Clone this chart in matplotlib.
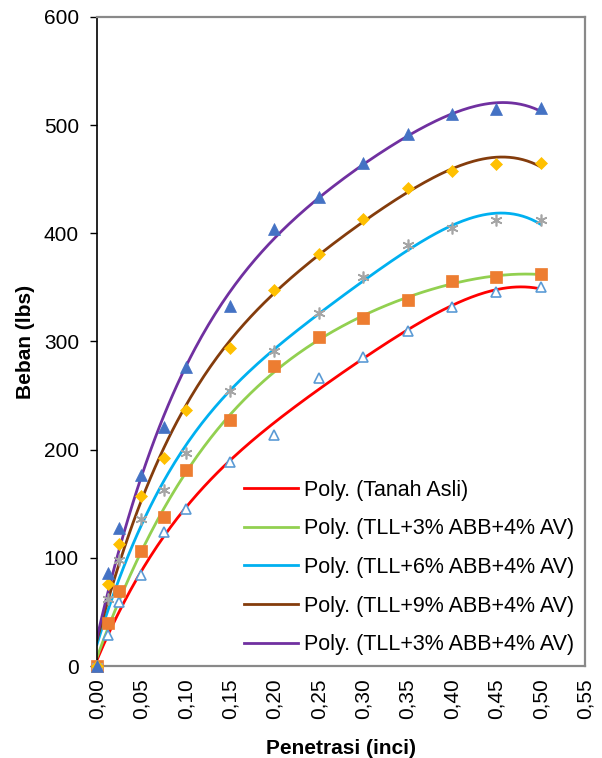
import numpy as np
import matplotlib
matplotlib.use("Agg")
import matplotlib.pyplot as plt

plt.rcParams['font.family'] = ['Liberation Sans', 'DejaVu Sans']

penetrasi = [0, 0.0125, 0.025, 0.05, 0.075, 0.1, 0.15, 0.2, 0.25, 0.3, 0.35, 0.4, 0.45, 0.5]
tanah_asli = [0, 29, 59, 84, 124, 145, 189, 214, 266, 286, 310, 332, 346, 350]
tll3 = [0, 40, 69, 106, 138, 181, 227, 277, 304, 322, 338, 356, 360, 362]
tll6 = [0, 62, 98, 136, 163, 197, 254, 291, 326, 360, 389, 405, 412, 412]
tll9 = [0, 76, 113, 157, 192, 237, 294, 348, 381, 413, 442, 458, 464, 465]
tll3b = [0, 86, 128, 177, 221, 276, 333, 404, 434, 465, 492, 510, 515, 516]

labels = ["Poly. (Tanah Asli)", "Poly. (TLL+3% ABB+4% AV)", "Poly. (TLL+6% ABB+4% AV)",
          "Poly. (TLL+9% ABB+4% AV)", "Poly. (TLL+3% ABB+4% AV)"]
xticks = [0, 0.05, 0.10, 0.15, 0.20, 0.25, 0.30, 0.35, 0.40, 0.45, 0.50, 0.55]
yticks = [0, 100, 200, 300, 400, 500, 600]

series = [tanah_asli, tll3, tll6, tll9, tll3b]
line_colors = ['#FF0000', '#92D050', '#00B0F0', '#843C0C', '#7030A0']
marker_styles = [
    dict(marker='^', markersize=7.7, markerfacecolor='white', markeredgecolor='#5B9BD5', markeredgewidth=1.2),
    dict(marker='s', markersize=8.2, markerfacecolor='#ED7D31', markeredgecolor='#ED7D31', markeredgewidth=0.5),
    dict(marker=(6, 2, 0), markersize=8.5, markerfacecolor='none', markeredgecolor='#A5A5A5', markeredgewidth=1.2),
    dict(marker='D', markersize=6.0, markerfacecolor='#FFC000', markeredgecolor='#FFC000', markeredgewidth=0.5),
    dict(marker='^', markersize=8.9, markerfacecolor='#4472C4', markeredgecolor='#4472C4', markeredgewidth=0.5),
]

fig = plt.figure(figsize=(6.02, 7.58), dpi=100)
ax = fig.add_axes([97/602, 1-666/758, (585-97)/602, (666-17)/758])

x = np.array(penetrasi)
xs = np.linspace(0, 0.5, 200)
handles = []
for ys, lc, ms, lab in zip(series, line_colors, marker_styles, labels):
    ax.plot(x, ys, linestyle='none', clip_on=False, zorder=3, **ms)
    coef = np.polyfit(x, ys, 4)
    h, = ax.plot(xs, np.polyval(coef, xs), color=lc, lw=2.0, zorder=2, label=lab)
    handles.append(h)

ax.set_xlim(0, 0.55)
ax.set_ylim(0, 600)
ax.set_xticks(xticks)
ax.set_xticklabels([f"{t:.2f}".replace('.', ',') for t in xticks], rotation=90, fontsize=15)
ax.set_yticks(yticks)
ax.set_yticklabels([str(t) for t in yticks], fontsize=15)
ax.tick_params(axis='x', length=0, pad=9)
ax.tick_params(axis='y', length=5, width=1, direction='out', pad=8)

for s in ['top', 'right', 'bottom']:
    ax.spines[s].set_color('#898989')
    ax.spines[s].set_linewidth(1.6)
ax.spines['left'].set_color('black')
ax.spines['left'].set_linewidth(1.2)

ax.set_xlabel("Penetrasi (inci)", fontsize=15, fontweight='bold', labelpad=14)
ax.set_ylabel("Beban (lbs)", fontsize=15, fontweight='bold', labelpad=6)

leg = ax.legend(handles=handles, loc='lower right', bbox_to_anchor=(1.0, 0.0),
                frameon=True, fontsize=15.5, handlelength=2.5, labelspacing=0.82,
                borderaxespad=0.2, handletextpad=0.3, borderpad=0.3)
leg.get_frame().set_edgecolor('none')
leg.get_frame().set_facecolor('white')
leg.get_frame().set_alpha(1)
leg.set_zorder(5)

fig.savefig("out.png", dpi=100)
